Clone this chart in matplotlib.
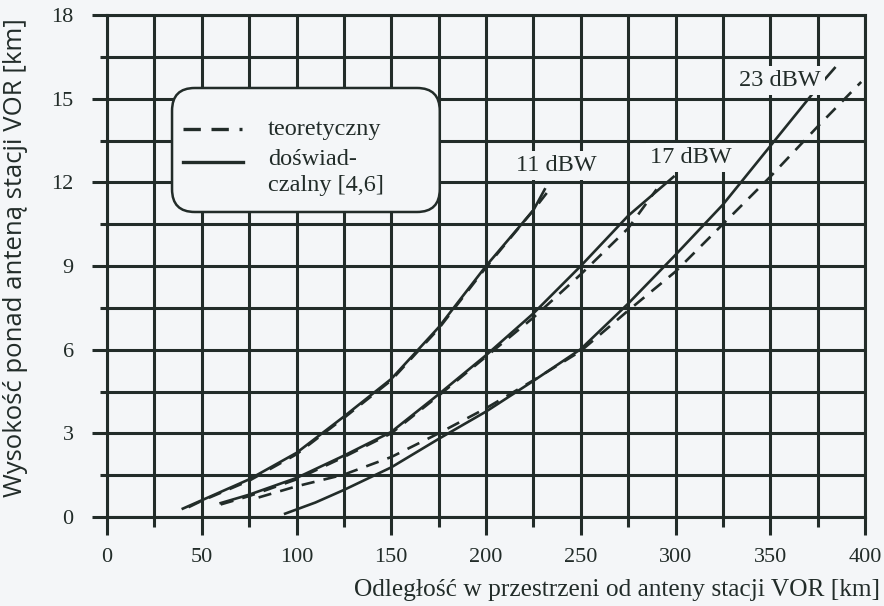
import matplotlib
matplotlib.use("Agg")
import matplotlib.pyplot as plt
from matplotlib.patches import FancyBboxPatch
from matplotlib.lines import Line2D

# ---- data ----
x11_exp = [40, 50, 75, 100, 125, 150, 175, 200, 225, 231]
y11_exp = [0.30, 0.60, 1.35, 2.30, 3.60, 4.95, 6.80, 9.00, 11.00, 11.75]
x11_th = [43, 50, 75, 100, 125, 150, 175, 200, 225, 233]
y11_th = [0.35, 0.58, 1.30, 2.25, 3.55, 4.90, 6.75, 8.95, 11.00, 11.70]

x17_exp = [60, 75, 100, 125, 150, 175, 200, 225, 250, 275, 299]
y17_exp = [0.50, 0.80, 1.40, 2.20, 3.05, 4.40, 5.80, 7.30, 9.00, 10.80, 12.20]
x17_th = [60, 75, 100, 125, 150, 175, 200, 225, 250, 275, 290]
y17_th = [0.45, 0.75, 1.35, 2.15, 3.00, 4.35, 5.75, 7.15, 8.70, 10.35, 11.75]

x23_exp = [94, 110, 125, 150, 175, 200, 225, 250, 275, 300, 325, 350, 375, 384]
y23_exp = [0.12, 0.52, 0.97, 1.78, 2.80, 3.78, 4.88, 6.02, 7.65, 9.40, 11.20, 13.30, 15.40, 16.10]
x23_th = [80, 100, 125, 150, 175, 200, 225, 250, 275, 300, 325, 350, 375, 398]
y23_th = [0.70, 1.10, 1.52, 2.15, 3.00, 3.90, 4.90, 5.95, 7.40, 8.80, 10.50, 12.20, 14.00, 15.60]

curve_labels = ["11 dBW", "17 dBW", "23 dBW"]
label_x = [237, 308, 355]
label_y = [12.6, 12.9, 15.65]

x_major = list(range(0, 401, 50))
x_minor = list(range(25, 400, 50))
y_major = [0, 3, 6, 9, 12, 15, 18]
y_minor = [1.5, 4.5, 7.5, 10.5, 13.5, 16.5]

# ---- style ----
BG = "#f4f6f8"
INK = "#222c29"
SERIF = ["Liberation Serif", "DejaVu Serif"]
SANS = ["Open Sans", "DejaVu Sans"]

fig = plt.figure(figsize=(8.84, 6.06), dpi=100, facecolor=BG)
ax = fig.add_axes([107/884, 1-517/606, 758/884, 502/606], facecolor=BG)

ax.set_xlim(0, 400)
ax.set_ylim(0, 18)
ax.set_xticks(x_major)
ax.set_xticks(x_minor, minor=True)
ax.set_yticks(y_major)
ax.set_yticks(y_minor, minor=True)
ax.set_xticklabels([str(v) for v in x_major], fontfamily=SERIF, fontsize=16, color=INK)
ax.set_yticklabels([str(v) for v in y_major], fontfamily=SERIF, fontsize=16, color=INK)

ax.grid(True, which="both", color=INK, linewidth=2.2, zorder=1)
ax.set_axisbelow(True)
ax.tick_params(axis="x", which="major", direction="out", length=13, width=2.2, color=INK, pad=9)
ax.tick_params(axis="x", which="minor", direction="out", length=7, width=2.2, color=INK)
ax.tick_params(axis="y", which="major", direction="out", length=11, width=2.2, color=INK, pad=13)
ax.tick_params(axis="y", which="minor", direction="out", length=5, width=2.2, color=INK)
for s in ax.spines.values():
    s.set_color(INK)
    s.set_linewidth(2.2)

dash = (0, (5, 3.5))
lw = 1.9
ax.plot(x11_th, y11_th, color=INK, lw=lw, ls=dash, zorder=3)
ax.plot(x11_exp, y11_exp, color=INK, lw=lw, zorder=3)
ax.plot(x17_th, y17_th, color=INK, lw=lw, ls=dash, zorder=3)
ax.plot(x17_exp, y17_exp, color=INK, lw=lw, zorder=3)
ax.plot(x23_th, y23_th, color=INK, lw=lw, ls=dash, zorder=3)
ax.plot(x23_exp, y23_exp, color=INK, lw=lw, zorder=3)

for t, lx, ly in zip(curve_labels, label_x, label_y):
    ax.text(lx, ly, t, ha="center", va="center", fontfamily=SERIF, fontsize=17.5,
            color=INK, zorder=4,
            bbox=dict(facecolor=BG, edgecolor="none", pad=3))

# ---- legend box (custom) ----
box = FancyBboxPatch((0.0858, 0.6076), 0.439-0.0858, 0.8546-0.6076,
                     boxstyle="round,pad=0,rounding_size=0.03",
                     transform=ax.transAxes, facecolor=BG, edgecolor=INK,
                     linewidth=1.8, zorder=5, mutation_aspect=758/502)
ax.add_patch(box)
ax.add_line(Line2D([0.100, 0.182], [0.772, 0.772], transform=ax.transAxes,
                   color=INK, lw=2.4, ls=(0, (5.2, 3.2, 5.2, 3.2, 0.9, 50)), zorder=6))
ax.add_line(Line2D([0.100, 0.180], [0.707, 0.707], transform=ax.transAxes,
                   color=INK, lw=2.4, zorder=6))
ax.text(0.2124, 0.772, "teoretyczny", transform=ax.transAxes, ha="left", va="center",
        fontfamily=SERIF, fontsize=17.5, color=INK, zorder=6)
ax.text(0.2124, 0.712, "doświad-", transform=ax.transAxes, ha="left", va="center",
        fontfamily=SERIF, fontsize=17.5, color=INK, zorder=6)
ax.text(0.2124, 0.660, "czalny [4,6]", transform=ax.transAxes, ha="left", va="center",
        fontfamily=SERIF, fontsize=17.5, color=INK, zorder=6)

fig.text(16/884, 1-258/606, "Wysokość ponad anteną stacji VOR [km]", rotation=90,
         ha="center", va="center", fontfamily=SANS, fontsize=18.5, color=INK)
fig.text(880/884, 1-590/606, "Odległość w przestrzeni od anteny stacji VOR [km]",
         ha="right", va="center", fontfamily=SERIF, fontsize=18.3, color=INK)

fig.savefig("out.png", dpi=100, facecolor=BG)
